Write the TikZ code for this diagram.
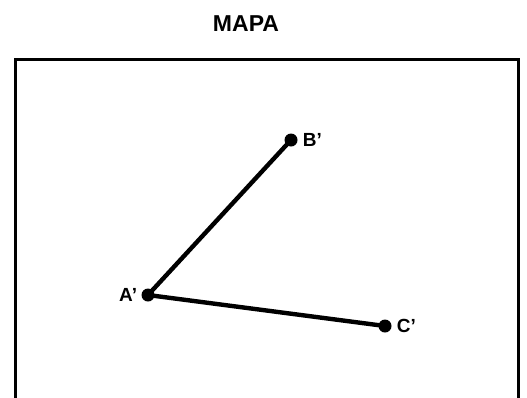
\documentclass[tikz,border=0pt]{standalone}
\usepackage{fontspec}
\setmainfont{Liberation Sans}
\usetikzlibrary{positioning}
\tikzset{
    punto/.style={circle, fill=black, inner sep=0pt, minimum size=13pt},
    etiqueta/.style={font=\fontsize{19}{21}\selectfont\bfseries, inner sep=1pt},
    titulo/.style={font=\fontsize{23}{26}\selectfont\bfseries},
    marco/.style={line width=3pt},
    lado/.style={line width=4.4pt}
}
\begin{document}
\begin{tikzpicture}[x=1pt, y=-1pt]
    \useasboundingbox (0,0) rectangle (527,397);
    \clip (0,0) rectangle (527,397);
    \node[titulo] (tit) at (246,24) {MAPA};
    \draw[marco] (15,420) -- (15,59) -- (518,59) -- (518,420);
    \node[punto] (a) at (148,295) {};
    \node[punto] (b) at (291,140) {};
    \node[punto] (c) at (385,326) {};
    \node[etiqueta, left=3pt of a] (la) {A'};
    \node[etiqueta, right=4pt of b] (lb) {B'};
    \node[etiqueta, right=4pt of c] (lc) {C'};
    \draw[lado] (a.center) -- (b.center);
    \draw[lado] (a.center) -- (c.center);
\end{tikzpicture}
\end{document}
